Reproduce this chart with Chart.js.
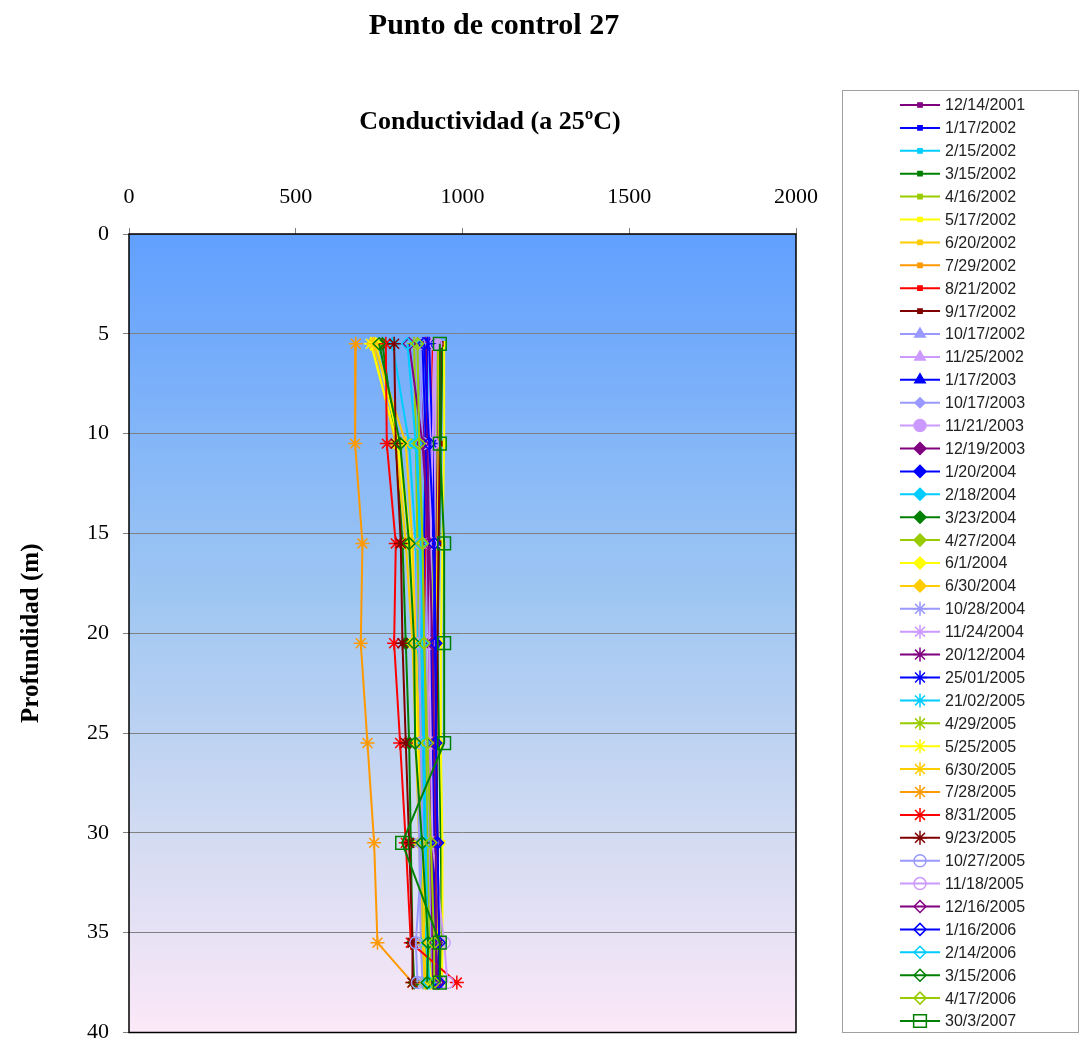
<!DOCTYPE html>
<html>
<head>
<meta charset="utf-8">
<script src="https://cdn.jsdelivr.net/npm/chart.js@4.4.1/dist/chart.umd.min.js"></script>
<style>
  html, body { margin: 0; padding: 0; background: #fff; }
  #wrap { width: 1084px; height: 1043px; position: relative; }
</style>
</head>
<body>
<div id="wrap"><canvas id="myChart" width="1084" height="1043"></canvas></div>
<script>
// Depths (m) where the samples were taken
const depths = [5.5, 10.5, 15.5, 20.5, 25.5, 30.5, 35.5, 37.5];

// Sampling dates (legend labels)
const dates = [
  '12/14/2001', '1/17/2002', '2/15/2002', '3/15/2002', '4/16/2002', '5/17/2002',
  '6/20/2002', '7/29/2002', '8/21/2002', '9/17/2002', '10/17/2002', '11/25/2002',
  '1/17/2003', '10/17/2003', '11/21/2003', '12/19/2003', '1/20/2004', '2/18/2004',
  '3/23/2004', '4/27/2004', '6/1/2004', '6/30/2004', '10/28/2004', '11/24/2004',
  '20/12/2004', '25/01/2005', '21/02/2005', '4/29/2005', '5/25/2005', '6/30/2005',
  '7/28/2005', '8/31/2005', '9/23/2005', '10/27/2005', '11/18/2005', '12/16/2005',
  '1/16/2006', '2/14/2006', '3/15/2006', '4/17/2006', '30/3/2007'
];

// Conductivity values per date, one per depth
const conductivity = [
  [930, 925, 920, 915, 920, 925, 930, 928],
  [920, 915, 910, 905, 910, 915, 920, 925],
  [900, 890, 880, 875, 880, 885, 890, 895],
  [940, 935, 930, 925, 930, 935, 938, 935],
  [925, 920, 915, 905, 900, 905, 910, 912],
  [945, 945, 940, 935, 935, 940, 940, 938],
  [930, 928, 925, 920, 918, 920, 925, 922],
  [915, 910, 905, 900, 895, 900, 905, 908],
  [910, 900, 890, 885, 880, 885, 890, 895],
  [935, 932, 928, 925, 922, 925, 930, 928],
  [905, 900, 895, 890, 895, 900, 905, 910],
  [920, 918, 915, 912, 910, 912, 915, 918],
  [895, 890, 885, 880, 885, 890, 895, 900],
  [880, 875, 870, 865, 870, 875, 880, 885],
  [915, 910, 905, 900, 905, 910, 912, 915],
  [865, 885, 895, 900, 905, 910, 915, 920],
  [880, 890, 900, 905, 910, 915, 920, 925],
  [790, 840, 860, 865, 870, 875, 880, 885],
  [760, 800, 820, 830, 840, 845, 850, 855],
  [860, 870, 880, 885, 890, 895, 900, 905],
  [740, 810, 845, 860, 870, 880, 890, 895],
  [730, 800, 830, 850, 860, 870, 880, 885],
  [860, 870, 865, 860, 865, 870, 875, 880],
  [900, 905, 905, 900, 900, 905, 910, 915],
  [890, 895, 900, 900, 905, 905, 910, 912],
  [900, 910, 915, 915, 910, 915, 920, 925],
  [870, 865, 870, 875, 880, 885, 890, 895],
  [855, 860, 865, 870, 875, 880, 885, 890],
  [725, 805, 840, 855, 865, 880, 895, 905],
  [735, 830, 850, 860, 870, 880, 885, 890],
  [680, 678, 700, 695, 715, 735, 745, 850],
  [770, 773, 800, 795, 813, 830, 845, 983],
  [795, 800, 815, 820, 830, 840, 850, 850],
  [870, 880, 875, 870, 875, 880, 860, 865],
  [920, 910, 905, 900, 905, 910, 945, 955],
  [840, 880, 900, 910, 915, 920, 920, 925],
  [885, 900, 915, 920, 920, 925, 930, 930],
  [835, 860, 875, 880, 885, 890, 895, 900],
  [750, 813, 840, 855, 858, 879, 897, 894],
  [865, 870, 880, 885, 895, 905, 915, 915],
  [932, 932, 945, 945, 945, 819, 932, 932]
];

// Excel-like palette cycle
const palette = ['#800080', '#0000FF', '#00CCFF', '#008000', '#99CC00', '#FFFF00',
                 '#FFCC00', '#FF9900', '#FF0000', '#800000', '#9999FF', '#CC99FF'];

// marker per series: [style, radius, filled]
function markerFor(i) {
  if (i < 10) return ['rect', 3, true];
  if (i < 13) return ['triangle', 6, true];
  if (i === 13) return ['rectRot', 5, true];
  if (i === 14) return ['circle', 6, true];
  if (i < 22) return ['rectRot', 6, true];
  if (i < 33) return ['star', 7, false];
  if (i < 35) return ['circle', 6, false];
  if (i < 40) return ['rectRot', 6, false];
  return ['rect', 9, false];
}

const colors = dates.map((d, i) => {
  if (i < 10) return palette[i];
  if (i < 13) return ['#9999FF', '#CC99FF', '#0000FF'][i - 10];
  if (i < 22) return ['#9999FF', '#CC99FF', '#800080', '#0000FF', '#00CCFF', '#008000', '#99CC00', '#FFFF00', '#FFCC00'][i - 13];
  if (i < 33) return ['#9999FF', '#CC99FF', '#800080', '#0000FF', '#00CCFF', '#99CC00', '#FFFF00', '#FFCC00', '#FF9900', '#FF0000', '#800000'][i - 22];
  return ['#9999FF', '#CC99FF', '#800080', '#0000FF', '#00CCFF', '#008000', '#99CC00', '#008000'][i - 33];
});

const datasets = dates.map((d, i) => {
  const m = markerFor(i);
  return {
    label: d,
    data: conductivity[i].map((v, k) => ({ x: v, y: depths[k] })),
    showLine: true,
    borderColor: colors[i],
    borderWidth: 2,
    pointStyle: m[0],
    pointRadius: m[1],
    pointBorderWidth: 1.5,
    pointBorderColor: colors[i],
    pointBackgroundColor: m[2] ? colors[i] : 'rgba(0,0,0,0)',
    tension: 0,
    order: dates.length - i
  };
});

// plot background gradient + border + titles + legend
const decor = {
  id: 'decor',
  beforeDraw(chart) {
    const { ctx, chartArea: a } = chart;
    const g = ctx.createLinearGradient(0, a.top, 0, a.bottom);
    g.addColorStop(0, '#61A0FF');
    g.addColorStop(0.45, '#9EC6F2');
    g.addColorStop(0.75, '#D2DBF2');
    g.addColorStop(1, '#FCE8F8');
    ctx.save();
    ctx.fillStyle = g;
    ctx.fillRect(a.left, a.top, a.right - a.left, a.bottom - a.top);
    ctx.restore();
  },
  afterDraw(chart) {
    const { ctx, chartArea: a } = chart;
    ctx.save();
    ctx.strokeStyle = '#000';
    ctx.lineWidth = 1.5;
    ctx.strokeRect(a.left, a.top, a.right - a.left, a.bottom - a.top);

    ctx.fillStyle = '#000';
    ctx.textAlign = 'center';
    ctx.textBaseline = 'middle';
    ctx.font = 'bold 30px "Liberation Serif"';
    ctx.fillText('Punto de control 27', 494, 26);
    ctx.font = 'bold 26px "Liberation Serif"';
    ctx.fillText('Conductividad (a 25ºC)', 490, 122);

    // legend
    ctx.strokeStyle = '#A0A0A0';
    ctx.lineWidth = 1;
    ctx.strokeRect(842.5, 90.5, 236, 942);
    ctx.font = '16px "Liberation Sans"';
    ctx.textAlign = 'left';
    chart.data.datasets.forEach((ds, i) => {
      const y = 105 + i * 22.9;
      ctx.strokeStyle = ds.borderColor;
      ctx.lineWidth = 2;
      ctx.beginPath();
      ctx.moveTo(900, y);
      ctx.lineTo(940, y);
      ctx.stroke();
      ctx.fillStyle = ds.pointBackgroundColor;
      ctx.strokeStyle = ds.pointBorderColor;
      ctx.lineWidth = 1.5;
      Chart.helpers.drawPoint(ctx, { pointStyle: ds.pointStyle, radius: ds.pointRadius, borderWidth: 1.5, rotation: 0 }, 920, y);
      ctx.fillStyle = '#222';
      ctx.fillText(ds.label, 945, y + 1);
    });
    ctx.restore();
  }
};

const ctx = document.getElementById('myChart').getContext('2d');
new Chart(ctx, {
  type: 'scatter',
  data: { datasets },
  options: {
    responsive: false,
    animation: false,
    layout: { padding: { top: 184, right: 288, bottom: 9, left: 0 } },
    plugins: { legend: { display: false }, tooltip: { enabled: false } },
    scales: {
      x: {
        type: 'linear',
        position: 'top',
        min: 0,
        max: 2000,
        ticks: { stepSize: 500, color: '#000', padding: 18, font: { family: 'Liberation Serif', size: 22 },
                 callback: v => String(v) },
        grid: { drawOnChartArea: false, drawTicks: true, tickLength: 6, color: '#808080' },
        border: { display: false },
        afterFit(scale) { scale.height = 50; scale.paddingLeft = 0; scale.paddingRight = 0; }
      },
      y: {
        type: 'linear',
        reverse: true,
        min: 0,
        max: 40,
        ticks: { stepSize: 5, color: '#000', padding: 14, font: { family: 'Liberation Serif', size: 22 },
                 callback: v => String(v) },
        grid: { color: '#808080', tickLength: 6, lineWidth: 1 },
        border: { display: false },
        title: {
          display: true,
          text: 'Profundidad (m)',
          color: '#000',
          font: { family: 'Liberation Serif', size: 25, weight: 'bold' },
          padding: { top: 17, bottom: 0 }
        },
        afterFit(scale) { scale.width = 129; scale.paddingTop = 0; scale.paddingBottom = 0; }
      }
    }
  },
  plugins: [decor]
});
</script>
</body>
</html>
